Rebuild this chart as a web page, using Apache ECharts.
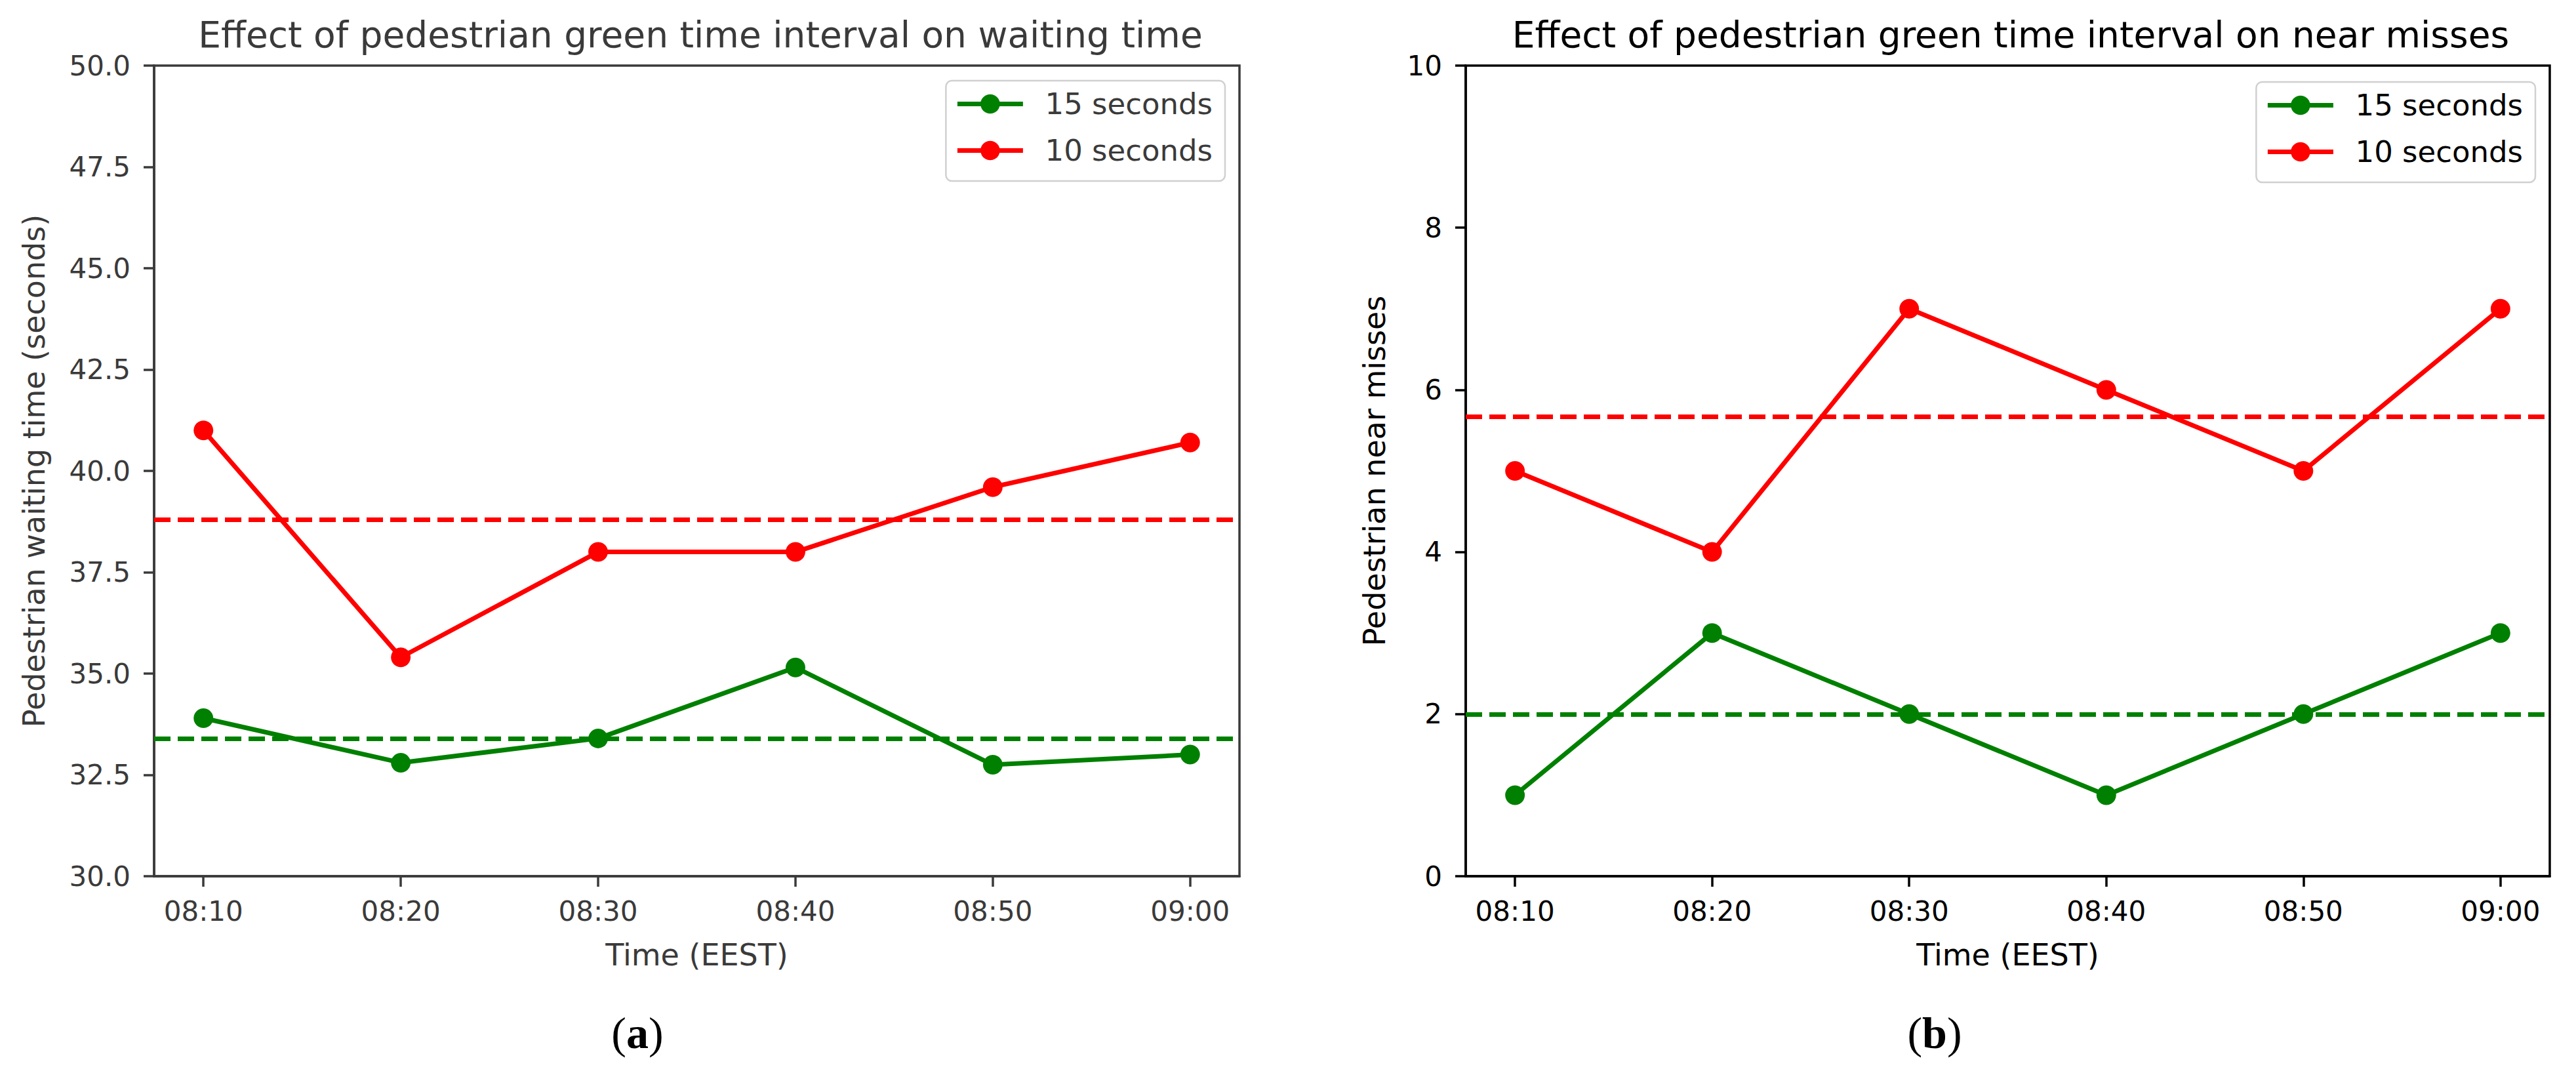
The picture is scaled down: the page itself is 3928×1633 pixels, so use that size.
<!DOCTYPE html>
<html>
<head>
<meta charset="utf-8">
<script src="https://cdn.jsdelivr.net/npm/echarts@6/dist/echarts.min.js"></script>
<style>
html,body{margin:0;padding:0;background:#fff;}
#chart{width:3928px;height:1633px;}
</style>
</head>
<body>
<div id="chart"></div>
<script>
// ---- data ----
const timeLabels = ['08:10', '08:20', '08:30', '08:40', '08:50', '09:00'];
const seriesNames = ['15 seconds', '10 seconds'];
// (a) pedestrian waiting time (seconds)
const wait15 = [33.9, 32.8, 33.4, 35.15, 32.75, 33.0];
const wait10 = [41.0, 35.4, 38.0, 38.0, 39.6, 40.7];
// dashed average lines as drawn in (a)
const waitAvg15 = 33.4;
const waitAvg10 = 38.8;
// (b) pedestrian near misses
const miss15 = [1, 3, 2, 1, 2, 3];
const miss10 = [5, 4, 7, 6, 5, 7];
// dashed average lines as drawn in (b)
const missAvg15 = 2.0;
const missAvg10 = 5.67;
// y-axis ticks
const waitTicks = { min: 30, max: 50, step: 2.5 };
const missTicks = { min: 0, max: 10, step: 2 };

const GREEN = '#008000';
const RED = '#ff0000';
const FONT = 'DejaVu Sans';
const TICK_FS = 42;
const LABEL_FS = 46;
const LEGEND_FS = 45;

function pairs(arr) { return arr.map((v, i) => [i, v]); }
const idx = timeLabels.map((_, i) => i);

function lineSeries(name, color, values, avg, gridIdx) {
  return {
    name: name,
    type: 'line',
    xAxisIndex: gridIdx,
    yAxisIndex: gridIdx,
    data: pairs(values),
    symbol: 'circle',
    symbolSize: 30,
    lineStyle: { color: color, width: 7 },
    itemStyle: { color: color },
    z: 3,
    markLine: {
      silent: true,
      symbol: 'none',
      label: { show: false },
      lineStyle: { color: color, width: 7, type: [25, 11] },
      data: [{ yAxis: avg }],
      animation: false
    }
  };
}

function xAxisFor(gridIdx, col) {
  return {
    type: 'value',
    gridIndex: gridIdx,
    min: -0.25,
    max: 5.25,
    name: 'Time (EEST)',
    nameLocation: 'middle',
    nameGap: 97,
    nameMoveOverlap: false,
    nameTextStyle: { fontFamily: FONT, fontSize: LABEL_FS, color: col },
    splitLine: { show: false },
    axisLine: { show: true, onZero: false, lineStyle: { color: col, width: 3.5 } },
    axisTick: { show: true, length: 16, lineStyle: { color: col, width: 3.5 }, customValues: idx },
    axisLabel: {
      show: true, margin: 32, fontFamily: FONT, fontSize: TICK_FS, color: col,
      customValues: idx,
      formatter: (v) => timeLabels[Math.round(v)]
    }
  };
}

function yAxisFor(gridIdx, col, t, digits) {
  return {
    type: 'value',
    gridIndex: gridIdx,
    min: t.min,
    max: t.max,
    interval: t.step,
    splitLine: { show: false },
    axisLine: { show: true, onZero: false, lineStyle: { color: col, width: 3.5 } },
    axisTick: { show: true, length: 16, lineStyle: { color: col, width: 3.5 } },
    axisLabel: {
      show: true, margin: 36, fontFamily: FONT, fontSize: TICK_FS, color: col,
      formatter: (v) => v.toFixed(digits)
    }
  };
}

const GAP = '\u00a0\u00a0';

function legendFor(right, top, col) {
  return {
    data: seriesNames,
    orient: 'vertical',
    right: right,
    top: top,
    itemWidth: 100,
    itemHeight: 37,
    itemGap: 26,
    padding: [13, 19, 24, 14],
    backgroundColor: 'rgba(255,255,255,0.8)',
    borderColor: '#d0d0d0',
    borderWidth: 2.5,
    borderRadius: 9,
    lineStyle: { width: 7 },
    formatter: (n) => GAP + n,
    textStyle: { fontFamily: FONT, fontSize: LEGEND_FS, lineHeight: 45, color: col },
    selectedMode: false
  };
}

const LEFT_COL = '#3a3a3a';
const RIGHT_COL = '#000000';

function caption(letter, x) {
  return {
    text: '({b|' + letter + '})', left: x, top: 1536, textAlign: 'center',
    textStyle: {
      fontFamily: 'Liberation Serif', fontSize: 68, fontWeight: 'normal', color: '#000',
      rich: { b: { fontFamily: 'Liberation Serif', fontSize: 68, fontWeight: 'bold', color: '#000' } }
    }
  };
}

function yTitle(text, x, col) {
  return {
    type: 'text', x: x, y: 718, rotation: Math.PI / 2, silent: true,
    style: { text: text, fill: col, font: LABEL_FS + 'px "DejaVu Sans"', align: 'center', verticalAlign: 'middle' }
  };
}

const option = {
  backgroundColor: '#ffffff',
  animation: false,
  title: [
    { text: 'Effect of pedestrian green time interval on waiting time', left: 1063, top: 20, textAlign: 'center',
      textStyle: { fontFamily: FONT, fontSize: 55, fontWeight: 'normal', color: LEFT_COL } },
    { text: 'Effect of pedestrian green time interval on near misses', left: 3061, top: 20, textAlign: 'center',
      textStyle: { fontFamily: FONT, fontSize: 55, fontWeight: 'normal', color: RIGHT_COL } },
    caption('a', 967),
    caption('b', 2945)
  ],
  graphic: [
    yTitle('Pedestrian waiting time (seconds)', 52, LEFT_COL),
    yTitle('Pedestrian near misses', 2096, RIGHT_COL)
  ],
  legend: [legendFor(2060, 123, LEFT_COL), legendFor(62, 125, RIGHT_COL)],
  grid: [
    { left: 235, top: 100, width: 1655, height: 1236, show: true, borderColor: LEFT_COL, borderWidth: 3.5, backgroundColor: 'transparent' },
    { left: 2235, top: 100, width: 1653, height: 1236, show: true, borderColor: RIGHT_COL, borderWidth: 3.5, backgroundColor: 'transparent' }
  ],
  xAxis: [xAxisFor(0, LEFT_COL), xAxisFor(1, RIGHT_COL)],
  yAxis: [
    yAxisFor(0, LEFT_COL, waitTicks, 1),
    yAxisFor(1, RIGHT_COL, missTicks, 0)
  ],
  series: [
    lineSeries(seriesNames[0], GREEN, wait15, waitAvg15, 0),
    lineSeries(seriesNames[1], RED, wait10, waitAvg10, 0),
    lineSeries(seriesNames[0], GREEN, miss15, missAvg15, 1),
    lineSeries(seriesNames[1], RED, miss10, missAvg10, 1)
  ]
};

const chart = echarts.init(document.getElementById('chart'), null, { renderer: 'svg' });
chart.setOption(option);
</script>
</body>
</html>
